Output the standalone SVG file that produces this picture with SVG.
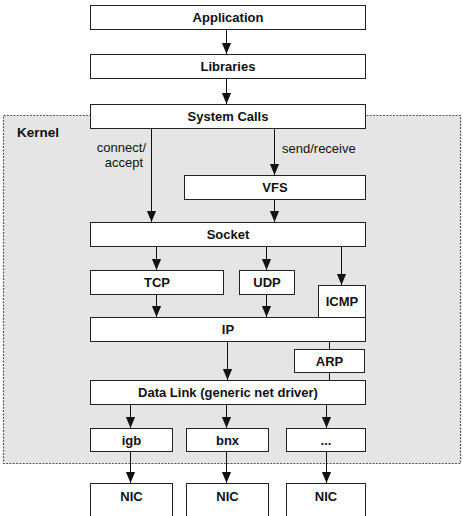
<svg xmlns="http://www.w3.org/2000/svg" width="463" height="516" viewBox="0 0 463 516">
<style>
  .box { fill: #ffffff; stroke: #222222; stroke-width: 1; }
  .lbl { font-family: "Liberation Sans", Arial, sans-serif; font-size: 13px; font-weight: bold; fill: #111111; text-anchor: middle; }
  .note { font-family: "Liberation Sans", Arial, sans-serif; font-size: 13px; fill: #111111; }
  .kern { font-family: "Liberation Sans", Arial, sans-serif; font-size: 13.5px; font-weight: bold; fill: #111111; }
  .edge { stroke: #111111; stroke-width: 1; fill: none; }
  .arr { marker-end: url(#ah); }
</style>
<defs>
  <marker id="ah" viewBox="0 0 12 10" markerUnits="userSpaceOnUse" markerWidth="11" markerHeight="11" refX="12" refY="5" orient="auto">
    <path d="M0,0 L12,5 L0,10 z" fill="#111111"/>
  </marker>
</defs>
<rect width="463" height="516" fill="#ffffff"/>
<g id="kernel">
  <rect x="3.5" y="115.5" width="457" height="348" fill="#e5e5e5" stroke="#555555" stroke-width="1.2" stroke-dasharray="2 1.3"/>
  <text class="kern" x="17" y="137">Kernel</text>
</g>
<g id="connectors">
  <line class="edge arr" x1="226.5" y1="29.5" x2="226.5" y2="54"/>
  <line class="edge arr" x1="226.5" y1="78.5" x2="226.5" y2="104"/>
  <line class="edge arr" x1="151.5" y1="128.5" x2="151.5" y2="222"/>
  <line class="edge arr" x1="274.5" y1="128.5" x2="274.5" y2="175"/>
  <line class="edge arr" x1="274.5" y1="199.5" x2="274.5" y2="222"/>
  <line class="edge arr" x1="156.5" y1="246.5" x2="156.5" y2="270"/>
  <line class="edge arr" x1="266.5" y1="246.5" x2="266.5" y2="270"/>
  <line class="edge arr" x1="341.5" y1="246.5" x2="341.5" y2="285"/>
  <line class="edge arr" x1="156.5" y1="294.5" x2="156.5" y2="317"/>
  <line class="edge arr" x1="266.5" y1="294.5" x2="266.5" y2="317"/>
  <line class="edge arr" x1="227.5" y1="341.5" x2="227.5" y2="380"/>
  <line class="edge" x1="329.5" y1="341.5" x2="329.5" y2="349.5" stroke="#777777"/>
  <line class="edge" x1="329.5" y1="372.5" x2="329.5" y2="380.5" stroke="#777777"/>
  <line class="edge arr" x1="130.5" y1="404.5" x2="130.5" y2="428"/>
  <line class="edge arr" x1="226.5" y1="404.5" x2="226.5" y2="428"/>
  <line class="edge arr" x1="326.5" y1="404.5" x2="326.5" y2="428"/>
  <line class="edge arr" x1="130.5" y1="451.5" x2="130.5" y2="483"/>
  <line class="edge arr" x1="226.5" y1="451.5" x2="226.5" y2="483"/>
  <line class="edge arr" x1="326.5" y1="451.5" x2="326.5" y2="483"/>
  <text class="note" x="146" y="152" text-anchor="end">connect/</text>
  <text class="note" x="143" y="167" text-anchor="end">accept</text>
  <text class="note" x="282" y="153">send/receive</text>
</g>
<g id="application"><rect class="box" x="90.5" y="5.5" width="275" height="24"/><text class="lbl" x="228" y="22">Application</text></g>
<g id="libraries"><rect class="box" x="90.5" y="54.5" width="275" height="24"/><text class="lbl" x="228" y="71">Libraries</text></g>
<g id="syscalls"><rect class="box" x="90.5" y="104.5" width="275" height="24"/><text class="lbl" x="228" y="121">System Calls</text></g>
<g id="vfs"><rect class="box" x="184.5" y="175.5" width="181" height="24"/><text class="lbl" x="275" y="192">VFS</text></g>
<g id="socket"><rect class="box" x="90.5" y="222.5" width="275" height="24"/><text class="lbl" x="228" y="239">Socket</text></g>
<g id="tcp"><rect class="box" x="90.5" y="270.5" width="133" height="24"/><text class="lbl" x="157" y="287">TCP</text></g>
<g id="udp"><rect class="box" x="239.5" y="270.5" width="55" height="24"/><text class="lbl" x="267" y="287">UDP</text></g>
<g id="icmp"><rect class="box" x="318.5" y="285.5" width="47" height="32"/><text class="lbl" x="342" y="306">ICMP</text></g>
<g id="ip"><rect class="box" x="90.5" y="317.5" width="275" height="24"/><text class="lbl" x="228" y="334">IP</text></g>
<g id="arp"><rect class="box" x="294.5" y="349.5" width="70" height="23"/><text class="lbl" x="329.5" y="365.5">ARP</text></g>
<g id="datalink"><rect class="box" x="90.5" y="380.5" width="275" height="24"/><text class="lbl" x="228" y="397">Data Link (generic net driver)</text></g>
<g id="igb"><rect class="box" x="90.5" y="428.5" width="82" height="23"/><text class="lbl" x="131.5" y="444.5">igb</text></g>
<g id="bnx"><rect class="box" x="186.5" y="428.5" width="82" height="23"/><text class="lbl" x="227.5" y="444.5">bnx</text></g>
<g id="other"><rect class="box" x="286.5" y="428.5" width="79" height="23"/><text class="lbl" x="326" y="444.5">...</text></g>
<g id="nic1"><rect class="box" x="90.5" y="483.5" width="82" height="40"/><text class="lbl" x="131.5" y="501">NIC</text></g>
<g id="nic2"><rect class="box" x="186.5" y="483.5" width="82" height="40"/><text class="lbl" x="227.5" y="501">NIC</text></g>
<g id="nic3"><rect class="box" x="286.5" y="483.5" width="79" height="40"/><text class="lbl" x="326" y="501">NIC</text></g>
</svg>
